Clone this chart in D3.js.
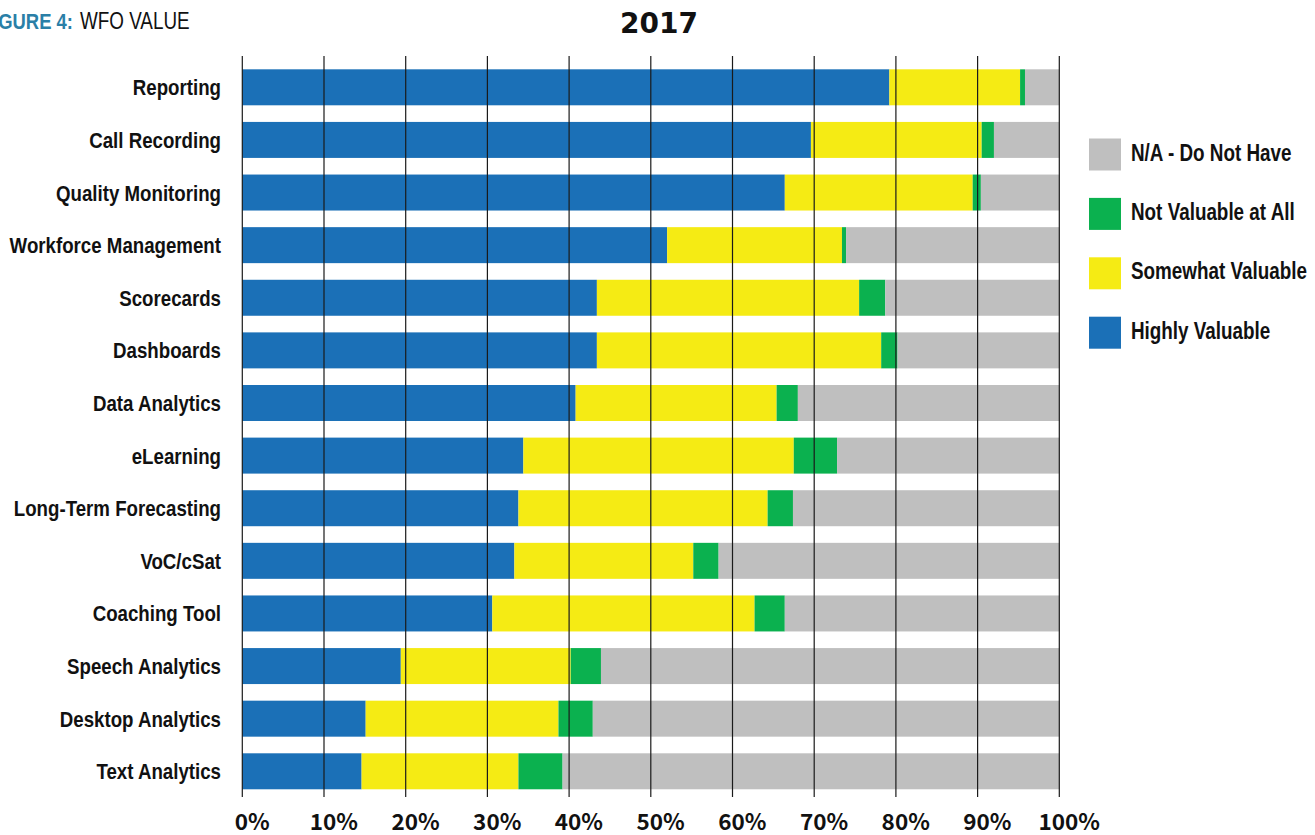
<!DOCTYPE html>
<html>
<head>
<meta charset="utf-8">
<script src="https://cdn.jsdelivr.net/npm/d3@7"></script>
<style>
  html, body { margin: 0; padding: 0; background: #fff; }
  svg { display: block; }
</style>
</head>
<body>
<svg id="chart" width="1315" height="835"></svg>
<script>
const categories = ["Reporting", "Call Recording", "Quality Monitoring", "Workforce Management",
  "Scorecards", "Dashboards", "Data Analytics", "eLearning", "Long-Term Forecasting",
  "VoC/cSat", "Coaching Tool", "Speech Analytics", "Desktop Analytics", "Text Analytics"];
const highlyValuable   = [79.2, 69.6, 66.4, 52.0, 43.4, 43.4, 40.8, 34.4, 33.8, 33.3, 30.6, 19.4, 15.1, 14.6];
const somewhatValuable = [16.0, 20.9, 23.0, 21.4, 32.1, 34.8, 24.6, 33.1, 30.5, 21.9, 32.1, 20.8, 23.6, 19.2];
const notValuable      = [0.6, 1.5, 1.0, 0.5, 3.2, 2.0, 2.6, 5.3, 3.1, 3.1, 3.7, 3.7, 4.2, 5.4];
const naDoNotHave      = [4.2, 8.0, 9.6, 26.1, 21.3, 19.8, 32.0, 27.2, 32.6, 41.7, 33.6, 56.1, 57.1, 60.8];
const seriesKeys   = ["high", "some", "not", "na"];
const seriesNames  = ["Highly Valuable", "Somewhat Valuable", "Not Valuable at All", "N/A - Do Not Have"];
const seriesColors = ["#1b70b7", "#f5eb14", "#0bb14f", "#bfbfbf"];
const tickValues = [0, 10, 20, 30, 40, 50, 60, 70, 80, 90, 100];
const legendOrder = ["na", "not", "some", "high"];
const chartTitle = "2017";
const figLabel = "FIGURE 4:";
const figTitle = "WFO VALUE";

const rows = categories.map((c, i) => ({
  cat: c, high: highlyValuable[i], some: somewhatValuable[i], not: notValuable[i], na: naDoNotHave[i]
}));

const svg = d3.select("#chart");
const sans = "'Liberation Sans', Arial, sans-serif";
const NARROW = 0.82; // horizontal condensing to mimic a narrow face

const x = d3.scaleLinear().domain([0, 100]).range([242.3, 1059.3]);
const y = d3.scaleBand().domain(categories).range([61, 797.6]).paddingInner(0.316).paddingOuter(0.158);
const color = d3.scaleOrdinal().domain(seriesKeys).range(seriesColors);

const stacked = d3.stack().keys(seriesKeys)(rows);

// bars
svg.append("g").selectAll("g").data(stacked).join("g")
  .attr("fill", d => color(d.key))
  .selectAll("rect").data(d => d).join("rect")
  .attr("x", d => x(d[0]))
  .attr("y", d => y(d.data.cat))
  .attr("width", d => Math.max(0, x(d[1]) - x(d[0])))
  .attr("height", y.bandwidth());

// gridlines on top
svg.append("g").selectAll("line").data(tickValues).join("line")
  .attr("x1", d => x(d)).attr("x2", d => x(d))
  .attr("y1", 56).attr("y2", 797)
  .attr("stroke", "#1a1a1a").attr("stroke-width", 1.2);

// category labels
svg.append("g").selectAll("text").data(categories).join("text")
  .attr("transform", d => `translate(221, ${y(d) + y.bandwidth() / 2}) scale(${NARROW},1)`)
  .attr("dy", "0.35em")
  .attr("text-anchor", "end")
  .attr("font-family", sans)
  .attr("font-weight", "bold")
  .attr("font-size", 22.8)
  .attr("fill", "#111")
  .text(d => d);

// x tick labels: numeric part centred on the gridline
const tl = svg.append("g").selectAll("text").data(tickValues).join("text")
  .attr("y", 830)
  .attr("font-family", "'Noto Sans CJK JP', 'Noto Sans', sans-serif")
  .attr("font-weight", "bold")
  .attr("font-size", 22.5)
  .attr("fill", "#111")
  .text(d => d + "%");
tl.each(function(d) {
  const s = String(d);
  const w = this.getSubStringLength(0, s.length);
  d3.select(this).attr("x", x(d) - w / 2 - 1);
});

// title
svg.append("text")
  .attr("x", 659).attr("y", 33)
  .attr("text-anchor", "middle")
  .attr("font-family", "'DejaVu Sans', sans-serif")
  .attr("font-weight", "bold")
  .attr("font-size", 28)
  .attr("fill", "#111")
  .text(chartTitle);

// figure header
svg.append("text")
  .attr("transform", `translate(73, 29) scale(${NARROW},1)`)
  .attr("text-anchor", "end")
  .attr("font-family", sans)
  .attr("font-weight", "bold")
  .attr("font-size", 22.5)
  .attr("fill", "#2a7fa7")
  .text(figLabel);
svg.append("text")
  .attr("transform", `translate(80, 29) scale(${NARROW},1)`)
  .attr("font-family", sans)
  .attr("font-size", 23)
  .attr("fill", "#111")
  .text(figTitle);

// legend
const lg = svg.append("g").selectAll("g").data(legendOrder).join("g")
  .attr("transform", (d, i) => `translate(1089, ${138.5 + i * 59.4})`);
lg.append("rect").attr("width", 32).attr("height", 32).attr("fill", d => color(d));
lg.append("text")
  .attr("transform", `translate(42, 14) scale(${NARROW},1)`)
  .attr("dy", "0.35em")
  .attr("font-family", sans)
  .attr("font-weight", "bold")
  .attr("font-size", 23)
  .attr("fill", "#111")
  .text(d => seriesNames[seriesKeys.indexOf(d)]);
</script>
</body>
</html>
